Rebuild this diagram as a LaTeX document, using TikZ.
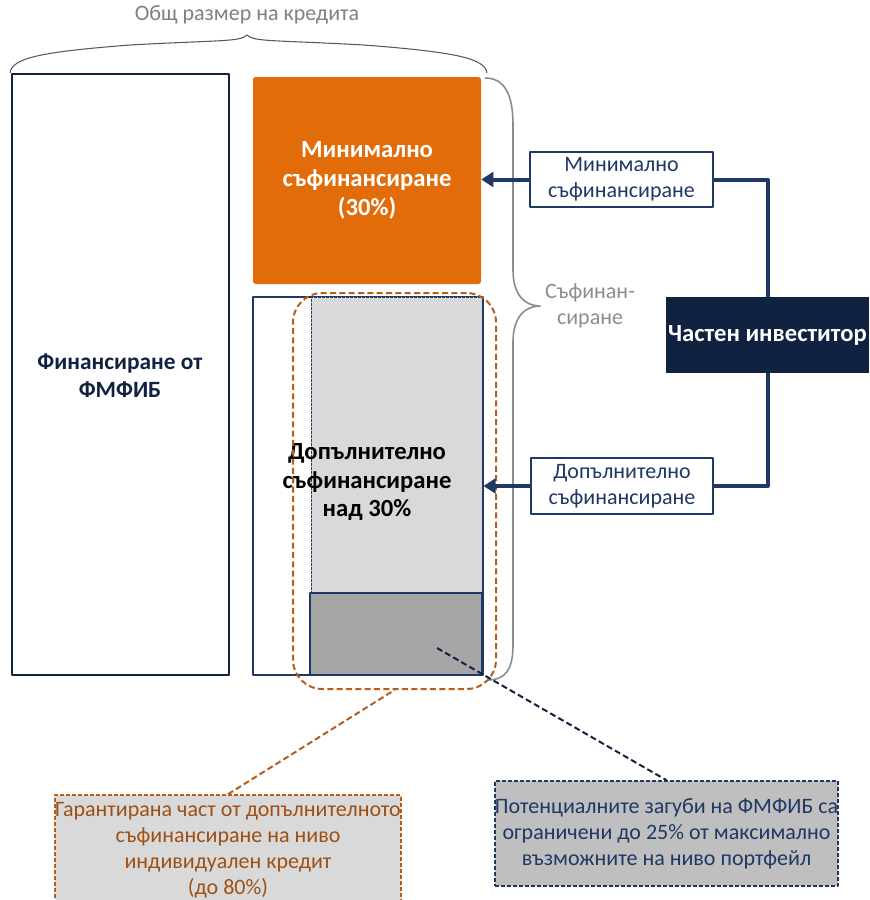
\documentclass[tikz,border=0pt]{standalone}
\usepackage{fontspec}
\setmainfont{Carlito}
\usetikzlibrary{arrows.meta}
\definecolor{navy}{RGB}{31,56,100}
\definecolor{ink}{RGB}{17,34,64}
\definecolor{orng}{RGB}{227,108,10}
\definecolor{brwn}{RGB}{184,92,24}
\definecolor{brtxt}{RGB}{158,80,20}
\definecolor{lgray}{RGB}{217,217,217}
\definecolor{dgray}{RGB}{166,166,166}
\definecolor{cgray}{RGB}{191,191,191}
\begin{document}
\begin{tikzpicture}[x=0.75pt,y=-0.75pt,line join=round,
 reg/.style={font=\fontsize{16.5}{19.5}\selectfont},
 big/.style={font=\fontsize{18.5}{21.5}\selectfont\bfseries},
 box/.style={draw=navy,fill=white,text=navy,align=center,reg,inner sep=0pt,line width=0.8pt},
 arr/.style={draw=navy,line width=3pt,-{Triangle[length=9pt,width=11pt]}},
 link/.style={draw=navy,line width=3pt}]
 \useasboundingbox (0,0) rectangle (869,900);
 % left column
 \node[draw=ink,line width=1.5pt,minimum width=162.75pt,minimum height=450.75pt,inner sep=0pt] (fmfib) at (120.5,374.5) {};
 \node[text=ink,font=\fontsize{17.5}{21}\selectfont\bfseries,align=center] (fmfibtxt) at (120,376) {Финансиране от\\ФМФИБ};
 \node[fill=orng,rounded corners=2pt,minimum width=171pt,minimum height=155.25pt,inner sep=0pt,
   text=white,big,align=center] (mini) at (367,180.5) {Минимално\\съфинансиране\\(30\%)};
 \node[draw=navy,line width=0.8pt,minimum width=172.5pt,minimum height=283.5pt,inner sep=0pt] (outer) at (368,486) {};
 \node[draw=navy,fill=lgray,dashed,dash pattern=on 2pt off 1pt,line width=0.5pt,minimum width=128.25pt,
   minimum height=222pt,inner sep=0pt] (extra) at (396.5,445) {};
 \node[draw=navy,fill=dgray,line width=0.8pt,minimum width=129pt,minimum height=61.5pt,inner sep=0pt] (loss) at (396,634) {};
 \node[big,text=black,align=center] (extratxt) at (367,482) {Допълнително\\съфинансиране\\над 30\%};
 \node[draw=brwn,dash pattern=on 4.5pt off 2.5pt,line width=1.5pt,rounded corners=22pt,
   minimum width=152.25pt,minimum height=297pt,inner sep=0pt] (guar) at (394.5,491) {};
 % braces
 \draw[black!65,line width=0.8pt] (10,73) .. controls (12,58) and (40,52) .. (130,45)
   .. controls (220,40) and (240,42) .. (247,35)
   .. controls (254,42) and (274,40) .. (364,45)
   .. controls (454,52) and (485,58) .. (487,73);
 \node[reg,text=black!50] (total) at (247,15) {Общ размер на кредита};
 \draw[black!45,line width=1.2pt] (485,78) .. controls (505,78) and (513,95) .. (513,125)
   -- (513,270) .. controls (513,295) and (525,306) .. (540,306)
   .. controls (525,306) and (513,317) .. (513,342)
   -- (513,645) .. controls (513,670) and (505,680) .. (488,680);
 \node[reg,text=black!45,align=center] (cofin) at (590,306) {Съфинан-\\сиране};
 % investor side
 \node[box,minimum width=137.25pt,minimum height=41.25pt] (minibox) at (621.5,179.5) {Минимално\\съфинансиране};
 \node[box,minimum width=136.5pt,minimum height=42pt] (extrabox) at (622,486) {Допълнително\\съфинансиране};
 \node[fill=ink,text=white,big,minimum width=152.25pt,minimum height=57pt,inner sep=0pt] (inv) at (767.5,335) {Частен инвеститор};
 \draw[arr] (minibox.west) -- (minibox.west -| mini.east);
 \draw[arr] (extrabox.west) -- (extrabox.west -| outer.east);
 \draw[link] (minibox.east) -| (inv.north);
 \draw[link] (inv.south) |- (extrabox.east);
 % callouts
 \node[draw=brwn,fill=lgray,dash pattern=on 3pt off 1.5pt,line width=1.2pt,minimum width=256.5pt,
   minimum height=82.5pt,inner sep=0pt,text=brtxt,align=center,reg] (guartxt) at (228,850)
   {Гарантирана част от допълнителното\\съфинансиране на ниво\\индивидуален кредит\\(до 80\%)};
 \node[draw=navy,fill=cgray,dash pattern=on 3pt off 1.5pt,line width=1.2pt,minimum width=255.75pt,
   minimum height=78.75pt,inner sep=0pt,text=navy,align=center,reg] (losstxt) at (666.5,833.5)
   {Потенциалните загуби на ФМФИБ са\\ограничени до 25\% от максимално\\възможните на ниво портфейл};
 \coordinate (losspt) at (437,648);
 \draw[brwn,line width=1.5pt,dash pattern=on 4.5pt off 2.5pt] (guartxt.north) -- (guar.south);
 \draw[ink,line width=1.5pt,dash pattern=on 4.5pt off 2.5pt] (losspt) -- (losstxt.north);
\end{tikzpicture}
\end{document}
